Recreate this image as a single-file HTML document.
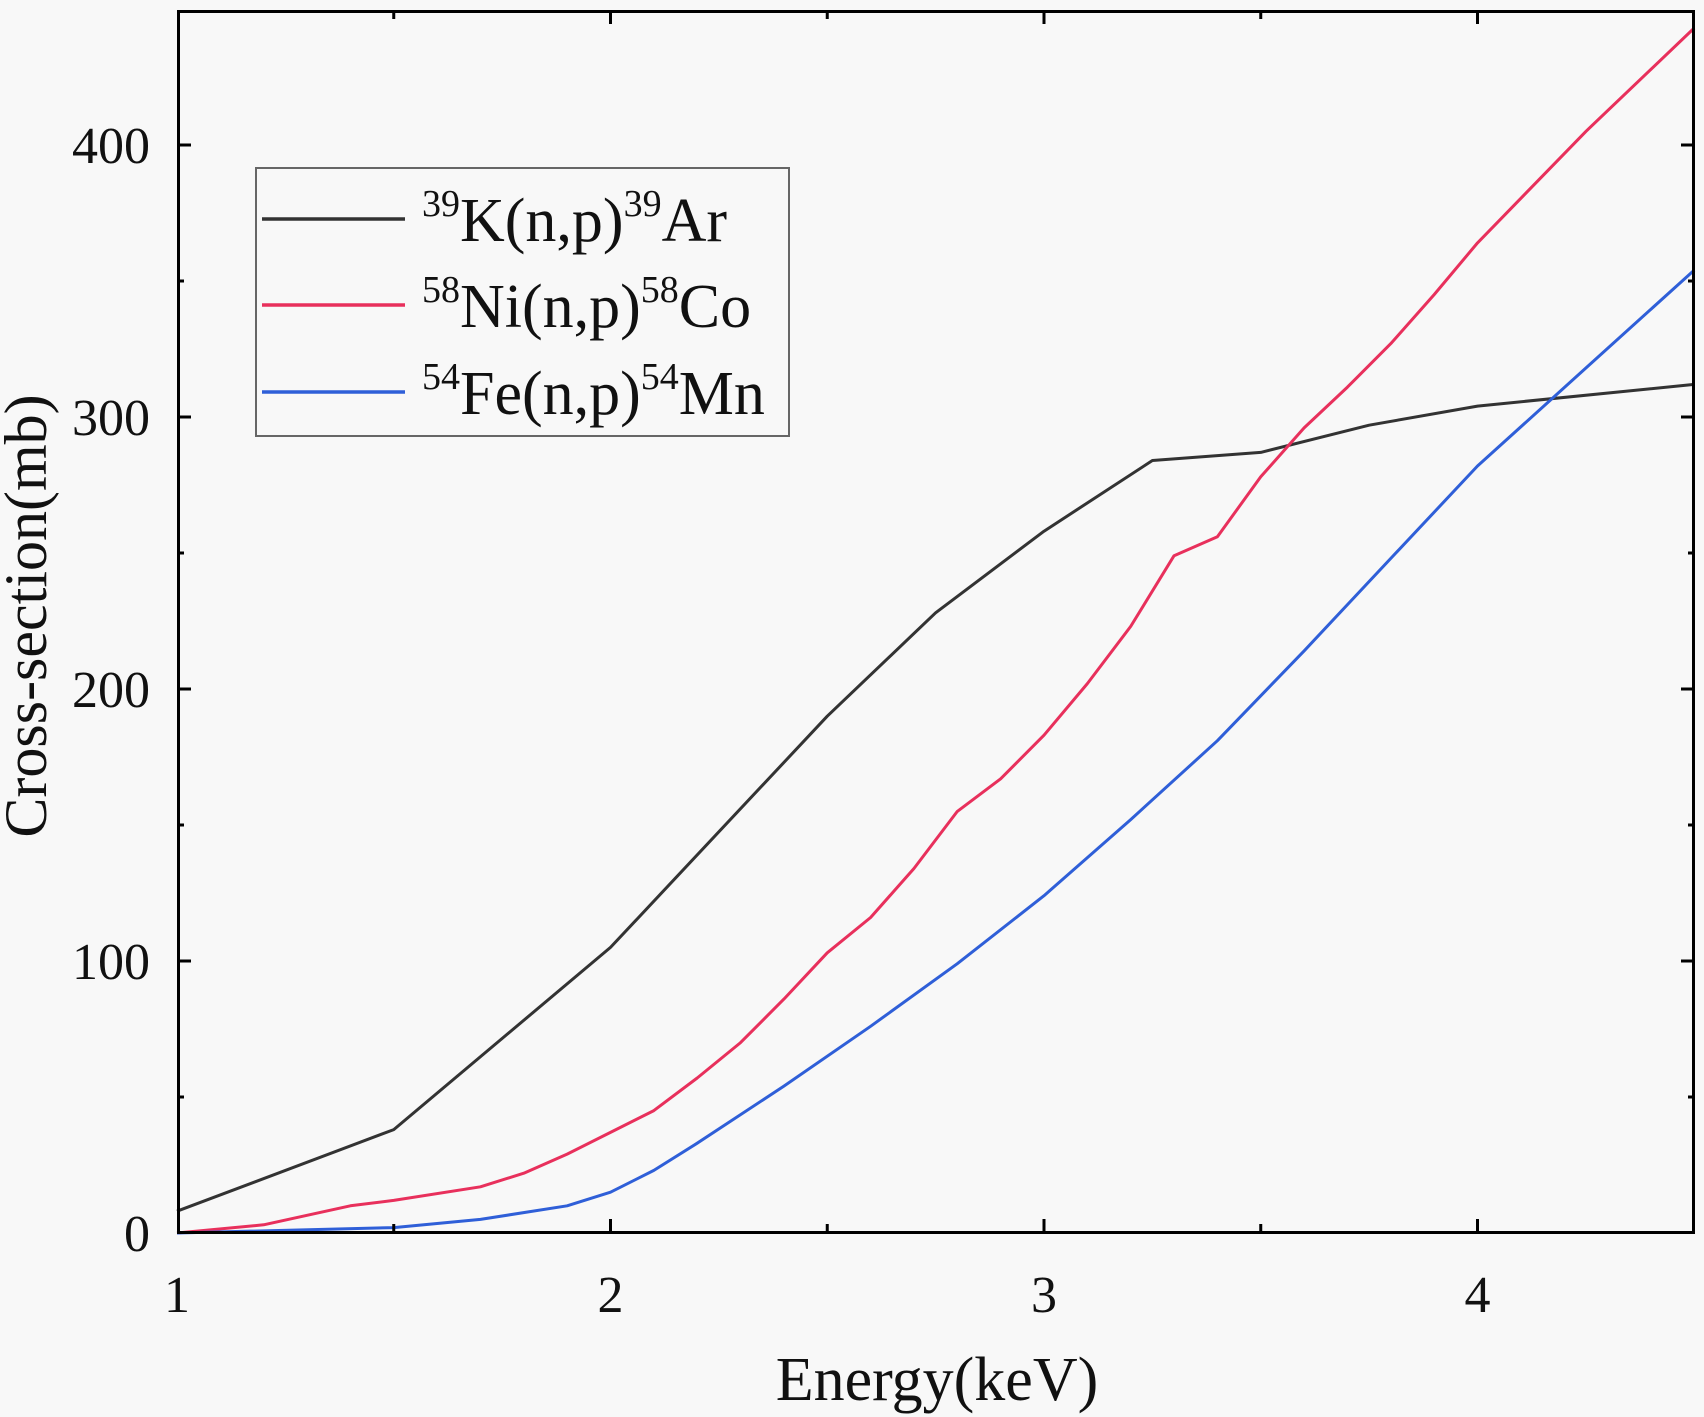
<!DOCTYPE html>
<html><head><meta charset="utf-8"><style>
html,body{margin:0;padding:0;background:#f8f8f8;}
svg{display:block;font-family:"Liberation Serif",serif;}
</style></head><body>
<svg width="1704" height="1417" viewBox="0 0 1704 1417" xmlns="http://www.w3.org/2000/svg">
<rect width="1704" height="1417" fill="#f8f8f8"/>
<g fill="none" stroke-width="3" stroke-linejoin="round">
<polyline stroke="#333" points="177,1211.2 393.75,1129.6 610.5,947.4 827.25,716.2 935.6,612.8 1044,531.2 1152.4,460.5 1260.75,452.4 1369.1,425.2 1477.5,406.1 1694.25,384.4"/>
<polyline stroke="#e8305c" points="177,1233 263.7,1224.8 350.4,1205.8 393.75,1200.4 480.45,1186.8 523.8,1173.2 567.15,1154.1 610.5,1132.4 653.85,1110.6 697.2,1078 740.55,1042.6 783.9,999.1 827.25,952.8 870.6,917.5 913.95,868.5 957.3,811.4 1000.65,778.8 1044,735.2 1087.35,683.6 1130.7,626.4 1174.05,555.7 1217.4,536.7 1260.75,476.8 1304.1,427.9 1347.45,387.1 1390.8,343.6 1434.15,294.6 1477.5,242.9 1585.9,131.4 1694.25,28"/>
<polyline stroke="#2f5fd8" points="177,1233 393.75,1227.6 480.45,1219.4 567.15,1205.8 610.5,1192.2 653.85,1170.4 697.2,1143.2 783.9,1086.1 870.6,1026.3 957.3,963.7 1044,895.7 1130.7,819.6 1217.4,740.7 1304.1,650.9 1390.8,558.4 1477.5,466 1585.9,368 1694.25,270.1"/>
</g>
<rect x="178.5" y="11.5" width="1515" height="1221" fill="none" stroke="#000" stroke-width="3"/>
<g stroke="#000" stroke-width="3">
<line x1="610.5" y1="1233" x2="610.5" y2="1219"/><line x1="1044" y1="1233" x2="1044" y2="1219"/><line x1="1477.5" y1="1233" x2="1477.5" y2="1219"/>
<line x1="393.75" y1="1233" x2="393.75" y2="1224"/><line x1="827.25" y1="1233" x2="827.25" y2="1224"/><line x1="1260.75" y1="1233" x2="1260.75" y2="1224"/>
<line x1="610.5" y1="10" x2="610.5" y2="24"/><line x1="1044" y1="10" x2="1044" y2="24"/><line x1="1477.5" y1="10" x2="1477.5" y2="24"/>
<line x1="393.75" y1="10" x2="393.75" y2="19"/><line x1="827.25" y1="10" x2="827.25" y2="19"/><line x1="1260.75" y1="10" x2="1260.75" y2="19"/>
<line x1="177" y1="961" x2="191" y2="961"/><line x1="177" y1="689" x2="191" y2="689"/><line x1="177" y1="417" x2="191" y2="417"/><line x1="177" y1="145" x2="191" y2="145"/>
<line x1="177" y1="1097" x2="184" y2="1097"/><line x1="177" y1="825" x2="184" y2="825"/><line x1="177" y1="553" x2="184" y2="553"/><line x1="177" y1="281" x2="184" y2="281"/>
<line x1="1695" y1="961" x2="1681" y2="961"/><line x1="1695" y1="689" x2="1681" y2="689"/><line x1="1695" y1="417" x2="1681" y2="417"/><line x1="1695" y1="145" x2="1681" y2="145"/>
<line x1="1695" y1="1097" x2="1688" y2="1097"/><line x1="1695" y1="825" x2="1688" y2="825"/><line x1="1695" y1="553" x2="1688" y2="553"/><line x1="1695" y1="281" x2="1688" y2="281"/>
</g>
<g font-size="52" fill="#111" text-anchor="end">
<text x="150" y="1251">0</text><text x="150" y="979">100</text><text x="150" y="707">200</text><text x="150" y="435">300</text><text x="150" y="163">400</text>
</g>
<g font-size="52" fill="#111" text-anchor="middle">
<text x="177" y="1312">1</text><text x="610.5" y="1312">2</text><text x="1044" y="1312">3</text><text x="1477.5" y="1312">4</text>
</g>
<text x="937" y="1400" font-size="62" text-anchor="middle" fill="#111">Energy(keV)</text>
<text transform="translate(46,616) rotate(-90)" font-size="60" text-anchor="middle" fill="#111">Cross-section(mb)</text>
<rect x="256" y="168" width="533" height="268" fill="#f8f8f8" stroke="#666" stroke-width="2"/>
<g stroke-width="3.5">
<line x1="262" y1="219" x2="405" y2="219" stroke="#333"/>
<line x1="262" y1="305" x2="405" y2="305" stroke="#e8305c"/>
<line x1="262" y1="392" x2="405" y2="392" stroke="#2f5fd8"/>
</g>
<g font-size="62" fill="#111">
<text x="422" y="241"><tspan font-size="38" dy="-25">39</tspan><tspan dy="25">K(n,p)</tspan><tspan font-size="38" dy="-25">39</tspan><tspan dy="25">Ar</tspan></text>
<text x="422" y="327"><tspan font-size="38" dy="-25">58</tspan><tspan dy="25">Ni(n,p)</tspan><tspan font-size="38" dy="-25">58</tspan><tspan dy="25">Co</tspan></text>
<text x="422" y="414"><tspan font-size="38" dy="-25">54</tspan><tspan dy="25">Fe(n,p)</tspan><tspan font-size="38" dy="-25">54</tspan><tspan dy="25">Mn</tspan></text>
</g>
</svg>
</body></html>
